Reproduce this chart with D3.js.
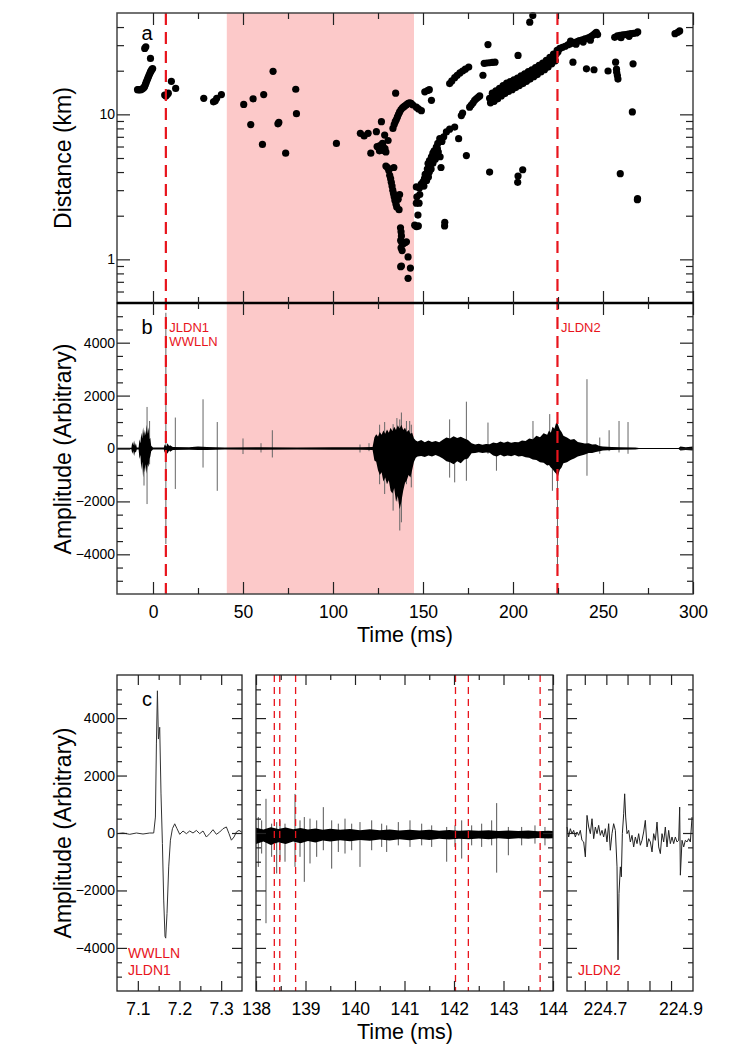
<!DOCTYPE html>
<html>
<head>
<meta charset="utf-8">
<script src="https://cdn.jsdelivr.net/npm/d3@7"></script>
<style>
  body { margin: 0; background: #fff; }
  svg { display: block; }
</style>
</head>
<body>
<script>
// ---- data ----

// panel a: source distance vs time, [ms, km]
const distPoints = [
  [-8.6,14.8],[-8.0,14.8],[-7.4,14.8],[-6.8,14.8],[-6.2,14.9],[-5.6,15.1],[-5.0,15.3],[-4.6,15.6],[-4.2,16.1],[-3.8,16.6],
  [-3.4,17.1],[-3.0,17.6],[-2.6,18.1],[-2.2,18.6],[-1.8,19.1],[-1.4,19.6],[-1.0,20.0],[-0.6,20.4],[-0.2,20.7],[-1.4,24.3],
  [-4.6,28.5],[-4.0,29.2],
  [6.5,13.6],[7.2,13.4],[7.9,13.7],[8.5,14.0],[10.2,16.9],[12.6,15.1],
  [28.2,12.9],[33.6,12.2],[34.6,12.4],[35.4,12.9],[38.0,13.7],[50.4,11.7],[54.3,8.5],[55.6,12.8],[60.8,6.2],[61.5,13.7],
  [66.7,19.8],[69.4,8.6],[69.9,8.8],[73.7,5.4],[79.3,14.9],[79.7,10.1],[101.9,6.3],[115.2,7.4],[117.3,7.1],[119.5,7.4],[121.0,5.4],
  [124.1,7.6],[126.9,8.9],[124.5,6.0],[125.3,5.9],[126.0,6.1],[126.6,5.8],[127.2,5.7],[127.8,6.0],[128.3,5.6],[128.9,5.8],
  [129.4,5.5],[127.5,6.3],[125.8,5.6],[128.7,7.2],[130.6,6.6],[134.8,14.0],
  [129.4,4.4],[130.3,4.3],[131.0,4.1],[131.5,3.8],[132.0,3.6],[132.4,3.4],[132.8,3.2],[133.2,3.0],[133.6,2.85],[134.0,2.7],
  [134.4,2.55],[135.0,2.4],[135.4,2.3],[136.7,2.2],[137.0,2.8],[136.2,2.6],[133.8,4.3],[137.5,1.65],[137.8,1.55],[138.0,1.45],
  [137.6,1.35],[138.3,1.3],[139.0,1.28],[140.0,1.3],[140.8,1.32],[137.8,1.2],[138.4,1.15],[141.7,1.04],[137.6,0.89],[138.0,0.9],
  [143.0,0.87],[141.7,0.74],
  [133.3,8.0],[134.0,8.5],[134.6,8.9],[135.2,9.2],[135.8,9.6],[136.4,10.0],[137.0,10.4],[137.8,10.8],[138.6,11.1],[139.4,11.3],
  [140.2,11.5],[141.0,11.7],[141.8,11.9],[142.6,12.0],[143.4,11.9],[144.4,11.6],[146.3,11.2],[147.5,10.9],[149.1,10.6],
  [145.4,1.72],[146.4,1.68],[147.4,1.7],[147.2,2.02],[146.3,2.44],[147.8,2.44],[146.6,2.7],[148.2,2.8],[146.3,3.16],[148.0,3.1],
  [149.0,3.3],[150.0,3.42],[150.5,3.2],[150.8,3.6],[151.2,3.85],[151.9,3.9],[152.0,3.5],[152.4,4.2],[152.8,4.58],[153.0,3.7],
  [153.5,4.0],[153.6,4.8],[154.0,4.4],[154.5,4.2],[154.7,5.1],[155.0,4.9],[155.5,5.4],[155.5,4.6],[156.0,5.2],[156.2,5.6],
  [156.8,4.9],[157.0,5.4],[157.4,5.95],[158.0,5.8],[158.2,6.3],[158.5,5.5],[159.3,6.8],[159.5,5.1],[160.0,4.3],[160.5,6.5],
  [161.5,7.0],[162.0,1.7],[162.1,1.8],[163.0,7.56],[164.8,7.9],[167.6,8.17],[169.8,6.8],[171.3,9.8],[172.0,10.2],[174.1,5.2],
  [175.9,11.2],[176.8,11.6],[177.8,12.0],[178.7,12.5],[179.6,12.8],[180.6,13.1],[181.5,13.4],
  [151.0,14.3],[152.5,14.6],[153.5,14.8],[154.7,12.5],[164.8,16.3],[166.0,17.0],[167.6,17.9],[169.0,18.6],[170.5,19.3],[172.0,19.9],
  [173.5,20.5],[175.4,21.2],[183.3,18.6],[184.0,22.5],[185.5,22.6],[187.0,22.7],[188.5,22.8],[190.0,22.9],[186.1,30.3],[202.8,25.5],
  [209.3,43.2],[211.0,48.0],[187.0,4.0],[202.6,3.4],[202.8,3.75],[205.4,4.15],
  [187,12.9],[188,13.0],[189,13.2],[190,13.5],[191,13.8],[192,14.1],[193,14.4],[194,14.7],[195,15.0],[196,15.2],
  [197,15.5],[198,15.7],[199,15.9],[200,16.2],[201,16.4],[202,16.6],[203,16.9],[204,17.1],[205,17.4],[206,17.7],
  [207,18.0],[208,18.3],[209,18.6],[210,18.9],[211,19.2],[212,19.6],[213,20.0],[214,20.4],[215,20.8],[216,21.2],
  [217,21.6],[218,22.1],[219,22.6],[220,23.2],[221,23.8],[222,24.5],[223,25.3],[224,26.1],[225,27.0],
  [188.5,14.0],[190.5,14.5],[192.5,15.1],[194.5,15.8],[196.5,16.4],[198.5,16.8],[200.5,17.3],[202.5,17.8],[204.5,18.4],[206.5,19.0],
  [208.5,19.7],[210.5,20.3],[212.5,21.0],[214.5,21.8],[216.5,22.6],[218.5,23.6],[220.5,24.7],[222.5,26.0],[224.5,27.6],
  [187.5,12.0],[189.5,12.3],[191.5,12.8],[193.5,13.4],[195.5,13.9],[197.5,14.4],[199.5,14.8],[201.5,15.3],[203.5,15.8],[205.5,16.3],
  [207.5,16.9],[209.5,17.5],[211.5,18.2],[213.5,18.8],[215.5,19.6],[217.5,20.3],[219.5,21.2],[221.5,22.3],[223.5,23.4],
  [226.0,28.5],[227.5,29.0],[229.0,29.5],[230.5,30.2],[231.5,30.6],[233.0,31.0],[234.5,31.4],[236.0,31.9],[237.0,32.3],[238.5,32.7],
  [240.0,33.2],[241.5,33.6],[242.6,34.0],[243.5,34.5],[244.5,35.2],[245.5,36.0],[246.3,36.8],[247.0,35.5],[232.0,32.0],[235.0,30.5],
  [239.0,31.5],[243.0,32.5],
  [256.5,34.0],[258.0,34.8],[259.5,35.0],[261.0,35.3],[262.5,35.5],[264.0,35.7],[265.5,36.0],[267.0,36.2],[268.5,36.4],[269.3,37.0],
  [260.0,33.8],[264.5,34.5],[290.0,36.0],[291.5,36.8],[292.6,37.6],
  [233.3,22.9],[240.8,20.6],[245.0,20.3],[252.8,19.9],[257.0,22.9],[257.5,20.5],[258.0,18.5],[258.3,17.5],[257.6,19.5],[266.7,22.3],
  [266.3,10.4],[259.6,3.9],[269.1,2.58],[269.2,2.62]
];

// panel b: waveform envelope [ms, high, low] and isolated pulses [ms, high, low]
const waveEnvelope = [
  [-20,30,-30],[-12,30,-30],[-11.5,250,-200],[-11,120,-90],[-10.5,300,-280],[-10,90,-120],[-9.5,200,-150],[-9,40,-40],
  [-8,40,-40],[-7.5,350,-400],[-7,200,-250],[-6.5,600,-800],[-6,380,-500],[-5.5,800,-1100],[-5,450,-700],[-4.5,700,-900],
  [-4,500,-600],[-3.5,900,-950],[-3,550,-600],[-2.5,800,-700],[-2,350,-400],[-1.5,400,-300],[-1,100,-100],[0,40,-40],
  [6,40,-40],[6.5,150,-150],[7.5,80,-90],[8,200,-200],[9,90,-80],[9.5,120,-120],[11,60,-60],[20,50,-50],[25,80,-60],
  [30,60,-60],[40,40,-40],[60,50,-50],[80,40,-40],[100,50,-50],[115,50,-50],[122,60,-60],
  [123,420,-450],[124,540,-500],[125,450,-820],[126,620,-1000],[127,520,-900],[128,680,-1250],[129,560,-1100],[130,720,-1350],
  [131,600,-1200],[132,780,-1600],[133,650,-1700],[134,820,-1500],[135,700,-2000],[136,880,-1800],[137,760,-2300],[138,900,-2000],
  [139,700,-1600],[140,780,-1300],[141,620,-1200],[142,700,-1000],[143,560,-1100],[144,600,-800],[145,380,-500],[146,300,-350],
  [147,260,-300],[149,320,-280],[151,240,-320],[153,300,-260],[155,250,-300],[157,280,-250],[159,240,-300],[161,330,-380],
  [163,420,-480],[165,380,-520],[167,460,-600],[169,400,-480],[171,440,-560],[173,380,-420],[175,320,-380],[177,200,-180],
  [179,150,-170],[181,180,-140],[183,140,-170],[185,170,-150],[187,160,-160],[189,230,-260],[191,200,-300],[193,260,-240],
  [195,220,-300],[197,260,-260],[199,220,-290],[201,250,-250],[203,240,-300],[205,300,-280],[207,280,-330],[209,380,-350],
  [211,350,-420],[213,480,-430],[215,430,-520],[217,580,-540],[219,520,-640],[220,680,-620],[221,600,-720],[222,820,-780],
  [223,750,-880],[224,980,-950],[225,900,-1050],[226,720,-800],[227,620,-720],[228,480,-560],[230,420,-520],[232,330,-430],
  [234,360,-380],[236,250,-300],[238,220,-260],[240,190,-230],[242,200,-170],[244,150,-170],[246,160,-130],[248,90,-100],
  [250,80,-80],[255,60,-60],[260,50,-50],[268,40,-40],[270,20,-20],[292,20,-20],[293,80,-80],[296,50,-60],[300,80,-80]
];
const wavePulses = [
  [-5.0,600,-1400],[-3.3,1570,-2100],[-1.9,1040,-600],[7.15,5130,-3610],[12.4,1170,-1530],[27.8,1860,-720],[35.7,1000,-1600],
  [50,380,-210],[60,200,-150],[66.3,690,-340],[115,150,-150],[120,200,-100],
  [125.9,900,-1350],[128.7,1000,-1720],[133.4,920,-2350],[135.5,1150,-2000],[137.1,1100,-3100],[138.0,1360,-2790],
  [140.8,1040,-1350],[142.6,1040,-900],[143.5,900,-1470],
  [164.8,1100,-1100],[167.6,300,-1280],[174.1,1770,-1220],[186.1,980,-200],[190.8,200,-840],[211.1,1040,-300],
  [220.4,1300,-500],[221.9,600,-1600],[224.7,1000,-4490],[241.1,2620,-1030],[248.2,415,-200],[253.4,690,-100],
  [258.9,1040,-150],[263.9,1000,-200]
];

const quietBand = [41, 145];
const detections = [
  { t: 7.15, lines: ["JLDN1", "WWLLN"] },
  { t: 224.7, lines: ["JLDN2"] }
];

const timeMajor = [0, 50, 100, 150, 200, 250, 300];
const timeMinor = [25, 75, 125, 175, 225, 275];
const distMajor = [1, 10];
const distMinor = [0.6, 0.7, 0.8, 0.9, 2, 3, 4, 5, 6, 7, 8, 9, 20, 30, 40];
const ampMajor = [-4000, -2000, 0, 2000, 4000];
const ampMinor = [-5000, -4500, -3500, -3000, -2500, -1500, -1000, -500, 500, 1000, 1500, 2500, 3000, 3500, 4500, 5000];

// panel c, left: WWLLN / JLDN1 sferic [ms, amplitude]
const sfericA = [
  [7.05,-23],[7.0644,0],[7.0805,-46],[7.0966,0],[7.1124,-35],[7.1285,0],[7.1381,0],[7.1422,555],[7.1446,3100],[7.147,4950],
  [7.1494,3270],[7.1525,3680],[7.1556,1360],[7.159,-370],[7.1621,-2335],[7.1652,-3600],[7.1669,-3660],[7.17,-2800],
  [7.1741,-1180],[7.1782,-250],[7.183,150],[7.1885,320],[7.194,150],[7.2005,-46],[7.2084,70],[7.2165,-23],[7.2245,70],
  [7.2324,0],[7.2405,90],[7.2485,-23],[7.2564,70],[7.2645,-140],[7.2725,-23],[7.2804,115],[7.2885,-46],[7.2965,35],
  [7.3044,150],[7.3125,210],[7.3188,-23],[7.3245,-250],[7.3308,-140],[7.3365,35],[7.3428,90],[7.3492,35]
];

// panel c, middle: envelope and pulses, plus the JLDN detections inside the window
const midEnvelope = [
  [138.0,180,-380],[138.15,120,-300],[138.3,200,-420],[138.45,140,-320],[138.6,190,-380],[138.75,130,-300],[138.9,170,-360],
  [139.05,120,-280],[139.2,160,-330],[139.35,110,-260],[139.5,150,-300],[139.7,110,-250],[139.9,140,-290],[140.1,100,-240],
  [140.3,130,-270],[140.5,95,-230],[140.7,120,-260],[140.9,90,-220],[141.1,115,-250],[141.3,85,-210],[141.5,110,-240],
  [141.7,80,-200],[141.9,105,-230],[142.1,80,-200],[142.3,100,-220],[142.5,75,-190],[142.7,95,-215],[142.9,70,-185],
  [143.1,90,-205],[143.3,70,-180],[143.5,85,-200],[143.7,65,-175],[143.9,80,-190],[144.0,70,-180]
];
const midPulses = [
  [138.047,555,-1180],[138.114,440,-715],[138.202,1190,-3140],[138.316,325,-830],[138.418,380,-1410],[138.485,440,-950],
  [138.586,325,-1000],[138.788,1360,-1180],[138.889,440,-830],[138.976,555,-1700],[139.091,500,-1060],[139.226,440,-830],
  [139.36,900,-600],[139.529,440,-1240],[139.663,325,-660],[139.798,500,-715],[139.933,325,-600],[140.101,380,-1180],
  [140.337,440,-600],[140.539,325,-485],[140.64,265,-660],[140.875,380,-430],[141.111,440,-485],[141.347,325,-430],
  [141.549,265,-485],[141.852,210,-1000],[142.02,265,-485],[142.155,440,-890],[142.357,265,-430],[142.559,325,-485],
  [142.761,440,-430],[142.862,1040,-1380],[143.098,210,-775],[143.367,210,-430],[143.636,265,-370],[143.838,210,-430]
];
const midDetections = [138.37, 138.48, 138.80, 142.03, 142.29, 143.74];

// panel c, right: JLDN2 sferic [ms, amplitude]
const sfericB = [
  [224.6,208],[224.6044,-139],[224.6088,150],[224.6132,-23],[224.6176,92],[224.622,-139],[224.6264,35],[224.6308,-81],
  [224.6352,92],[224.6396,-254],[224.6441,-312],[224.6485,-832],[224.6529,613],[224.6573,208],[224.6617,-23],[224.6661,497],
  [224.6705,-197],[224.6749,208],[224.6793,-23],[224.6837,266],[224.6881,-81],[224.6925,92],[224.6969,-139],[224.7013,150],
  [224.7057,-312],[224.7101,324],[224.7145,-601],[224.7189,-23],[224.7233,324],[224.7278,92],[224.7322,-1179],[224.7348,-4416],
  [224.7374,-2104],[224.741,-1179],[224.7436,-1526],[224.7463,-23],[224.7498,670],[224.7524,1364],[224.7551,555],[224.7586,-23],
  [224.763,92],[224.7674,-312],[224.7718,-81],[224.7762,-486],[224.7806,-139],[224.785,-370],[224.7894,-23],[224.7938,-428],
  [224.7982,-254],[224.8026,35],[224.807,439],[224.8115,-486],[224.8159,-197],[224.8203,-312],[224.8247,-659],[224.8291,-23],
  [224.8335,-254],[224.8379,381],[224.8423,-486],[224.8467,-717],[224.8511,-23],[224.8555,-312],[224.8599,208],[224.8643,-486],
  [224.8687,92],[224.8731,-370],[224.8775,-139],[224.8819,-370],[224.8863,-139],[224.8907,-312],[224.8952,-254],[224.8978,902],
  [224.8996,-1468],[224.904,-254],[224.9084,-486],[224.9128,-254],[224.9172,-312],[224.9216,-197],[224.926,-312],[224.9304,555]
];

const c1Major = [7.1, 7.2, 7.3];
const c1Minor = [7.15, 7.25];
const c2Major = [138, 139, 140, 141, 142, 143, 144];
const c2Minor = [138.5, 139.5, 140.5, 141.5, 142.5, 143.5];
const c3Labels = [224.7, 224.9];
const c3Ticks = [224.647, 224.704, 224.760, 224.818, 224.875];

// ---- drawing ----
const width = 748;
const height = 1057;
const font = "Helvetica, 'Liberation Sans', Arial, sans-serif";
const red = "#e8141c";

const svg = d3.select("body").append("svg")
    .attr("width", width)
    .attr("height", height);

svg.append("rect").attr("width", width).attr("height", height).attr("fill", "#fff");

const x = d3.scaleLinear().domain([-20, 300]).range([117, 693]);
const yDist = d3.scaleLog().domain([0.5, 50]).range([303, 13]);
const yAmp = d3.scaleLinear().domain([-5500, 5500]).range([594, 303]);

function addAxis(axis, tx, ty, size) {
    const g = svg.append("g").attr("transform", `translate(${tx},${ty})`).call(axis);
    g.select(".domain").remove();
    g.selectAll(".tick line").attr("stroke", "#222").attr("stroke-width", 1.2);
    g.selectAll(".tick text")
        .attr("font-family", font)
        .attr("font-size", size || 14)
        .attr("fill", "#000");
    return g;
}

function drawPulses(data, xs, ys, color) {
    svg.append("g").selectAll("line")
        .data(data)
        .join("line")
        .attr("x1", d => xs(d[0])).attr("x2", d => xs(d[0]))
        .attr("y1", d => ys(d[1])).attr("y2", d => ys(d[2]))
        .attr("stroke", color).attr("stroke-width", 1);
}

// quiet band across panels a and b
svg.append("rect")
    .attr("x", x(quietBand[0]))
    .attr("y", 13)
    .attr("width", x(quietBand[1]) - x(quietBand[0]))
    .attr("height", 594 - 13)
    .attr("fill", "#fcc9c9");

// panel a scatter
svg.append("g").selectAll("circle")
    .data(distPoints)
    .join("circle")
    .attr("cx", d => x(d[0]))
    .attr("cy", d => yDist(d[1]))
    .attr("r", 3.6)
    .attr("fill", "#000");

// panel b waveform
drawPulses(wavePulses, x, yAmp, "#666");
svg.append("path")
    .datum(waveEnvelope)
    .attr("d", d3.area().x(d => x(d[0])).y0(d => yAmp(d[2])).y1(d => yAmp(d[1])))
    .attr("fill", "#000");

// detection markers
detections.forEach(det => {
    svg.append("line")
        .attr("x1", x(det.t)).attr("x2", x(det.t))
        .attr("y1", 13).attr("y2", 594)
        .attr("stroke", red).attr("stroke-width", 2.2)
        .attr("stroke-dasharray", "12,7");
    det.lines.forEach((s, i) => {
        svg.append("text")
            .attr("x", x(det.t) + 3.5)
            .attr("y", 332 + i * 14)
            .attr("font-family", font).attr("font-size", 13)
            .attr("fill", red)
            .text(s);
    });
});

// frames
svg.append("rect").attr("x", 117).attr("y", 13).attr("width", 576).attr("height", 290)
    .attr("fill", "none").attr("stroke", "#444").attr("stroke-width", 1.5);
svg.append("rect").attr("x", 117).attr("y", 303).attr("width", 576).attr("height", 291)
    .attr("fill", "none").attr("stroke", "#444").attr("stroke-width", 1.5);
svg.append("line").attr("x1", 117).attr("x2", 693).attr("y1", 303).attr("y2", 303)
    .attr("stroke", "#000").attr("stroke-width", 2.5);

const ampFormat = d3.format("d");

// panel a axes
addAxis(d3.axisTop(x).tickValues(timeMajor).tickSize(-12).tickFormat(""), 0, 13);
addAxis(d3.axisTop(x).tickValues(timeMinor).tickSize(-6).tickFormat(""), 0, 13);
addAxis(d3.axisBottom(x).tickValues(timeMajor).tickSize(-12).tickFormat(""), 0, 303);
addAxis(d3.axisBottom(x).tickValues(timeMinor).tickSize(-6).tickFormat(""), 0, 303);
addAxis(d3.axisLeft(yDist).tickValues(distMajor).tickSize(-13).tickPadding(2).tickFormat(d3.format("d")), 117, 0, 14);
addAxis(d3.axisLeft(yDist).tickValues(distMinor).tickSize(-7).tickFormat(""), 117, 0);
addAxis(d3.axisRight(yDist).tickValues(distMajor).tickSize(-13).tickFormat(""), 693, 0);
addAxis(d3.axisRight(yDist).tickValues(distMinor).tickSize(-7).tickFormat(""), 693, 0);

// panel b axes
addAxis(d3.axisTop(x).tickValues(timeMajor).tickSize(-12).tickFormat(""), 0, 303);
addAxis(d3.axisTop(x).tickValues(timeMinor).tickSize(-6).tickFormat(""), 0, 303);
addAxis(d3.axisBottom(x).tickValues(timeMajor).tickSize(-12).tickPadding(12).tickFormat(d3.format("d")), 0, 594, 17.5);
addAxis(d3.axisBottom(x).tickValues(timeMinor).tickSize(-6).tickFormat(""), 0, 594);
addAxis(d3.axisLeft(yAmp).tickValues(ampMajor).tickSize(-13).tickPadding(2).tickFormat(ampFormat), 117, 0, 14);
addAxis(d3.axisLeft(yAmp).tickValues(ampMinor).tickSize(-6).tickFormat(""), 117, 0);
addAxis(d3.axisRight(yAmp).tickValues(ampMajor).tickSize(-13).tickFormat(""), 693, 0);
addAxis(d3.axisRight(yAmp).tickValues(ampMinor).tickSize(-6).tickFormat(""), 693, 0);

// panel c
const cTop = 675, cBottom = 991;
const yC = d3.scaleLinear().domain([-5500, 5500]).range([cBottom, cTop]);

const subpanels = [
    { domain: [7.05, 7.35], range: [117, 242], labels: c1Major, major: c1Major, minor: c1Minor, fmt: d3.format(".1f") },
    { domain: [138, 144], range: [256, 553], labels: c2Major, major: c2Major, minor: c2Minor, fmt: d3.format("d") },
    { domain: [224.6, 224.933], range: [567, 693], labels: c3Labels, major: c3Ticks, minor: [], fmt: d3.format(".1f") }
];
const xC = subpanels.map(p => d3.scaleLinear().domain(p.domain).range(p.range));

// left: sferic A
svg.append("path")
    .datum(sfericA)
    .attr("d", d3.line().x(d => xC[0](d[0])).y(d => yC(d[1])))
    .attr("fill", "none").attr("stroke", "#333").attr("stroke-width", 1);

// middle
drawPulses(midPulses, xC[1], yC, "#555");
svg.append("path")
    .datum(midEnvelope)
    .attr("d", d3.area().x(d => xC[1](d[0])).y0(d => yC(d[2])).y1(d => yC(d[1])))
    .attr("fill", "#000");
svg.append("g").selectAll("line")
    .data(midDetections)
    .join("line")
    .attr("x1", d => xC[1](d)).attr("x2", d => xC[1](d))
    .attr("y1", cTop).attr("y2", cBottom)
    .attr("stroke", red).attr("stroke-width", 1.3)
    .attr("stroke-dasharray", "7,5");

// right: sferic B
svg.append("path")
    .datum(sfericB)
    .attr("d", d3.line().x(d => xC[2](d[0])).y(d => yC(d[1])))
    .attr("fill", "none").attr("stroke", "#222").attr("stroke-width", 1);

subpanels.forEach((p, i) => {
    const xs = xC[i];
    const x0 = p.range[0], x1 = p.range[1];
    svg.append("rect").attr("x", x0).attr("y", cTop).attr("width", x1 - x0).attr("height", cBottom - cTop)
        .attr("fill", "none").attr("stroke", "#222").attr("stroke-width", 1.3);
    addAxis(d3.axisTop(xs).tickValues(p.major).tickSize(-10).tickFormat(""), 0, cTop);
    addAxis(d3.axisTop(xs).tickValues(p.minor).tickSize(-5).tickFormat(""), 0, cTop);
    addAxis(d3.axisBottom(xs).tickValues(p.major).tickSize(-10).tickFormat(""), 0, cBottom);
    addAxis(d3.axisBottom(xs).tickValues(p.minor).tickSize(-5).tickFormat(""), 0, cBottom);
    addAxis(d3.axisBottom(xs).tickValues(p.labels).tickSize(0).tickPadding(12).tickFormat(p.fmt), 0, cBottom, 17.5);
    const left = d3.axisLeft(yC).tickValues(ampMajor).tickSize(-10).tickPadding(2).tickFormat(i > 0 ? "" : ampFormat);
    addAxis(left, x0, 0, 14);
    addAxis(d3.axisLeft(yC).tickValues(ampMinor).tickSize(-5).tickFormat(""), x0, 0);
    addAxis(d3.axisRight(yC).tickValues(ampMajor).tickSize(-10).tickFormat(""), x1, 0);
    addAxis(d3.axisRight(yC).tickValues(ampMinor).tickSize(-5).tickFormat(""), x1, 0);
});

// panel c event labels
[["WWLLN", 128, 958], ["JLDN1", 128, 975], ["JLDN2", 578, 975]].forEach(([s, tx, ty]) => {
    svg.append("text").attr("x", tx).attr("y", ty)
        .attr("font-family", font).attr("font-size", 14).attr("fill", red).text(s);
});

// panel letters
[["a", 40], ["b", 334], ["c", 706]].forEach(([s, ty]) => {
    svg.append("text").attr("x", 147).attr("y", ty).attr("text-anchor", "middle")
        .attr("font-family", font).attr("font-size", 20).attr("fill", "#000").text(s);
});

// axis titles
[["Distance (km)", 158], ["Amplitude (Arbitrary)", 449], ["Amplitude (Arbitrary)", 833]].forEach(([s, cy]) => {
    svg.append("text")
        .attr("transform", `translate(70.5,${cy}) rotate(-90)`)
        .attr("text-anchor", "middle")
        .attr("font-family", font).attr("font-size", 23).attr("fill", "#000")
        .text(s);
});
[642, 1039].forEach(ty => {
    svg.append("text").attr("x", 405).attr("y", ty).attr("text-anchor", "middle")
        .attr("font-family", font).attr("font-size", 21.5).attr("fill", "#000").text("Time (ms)");
});
</script>
</body>
</html>
